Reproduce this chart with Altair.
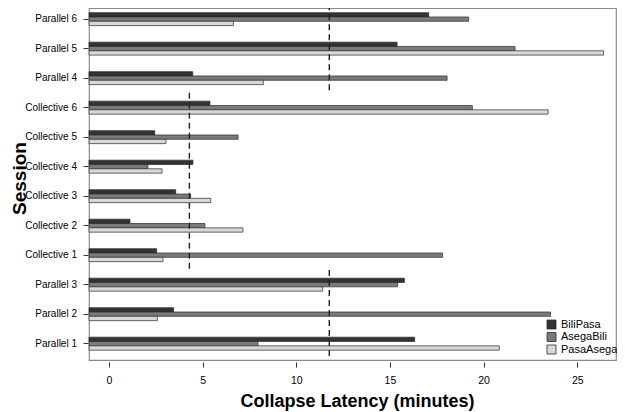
import altair as alt
import pandas as pd

sessions = ["Parallel 6", "Parallel 5", "Parallel 4", "Collective 6", "Collective 5",
            "Collective 4", "Collective 3", "Collective 2", "Collective 1",
            "Parallel 3", "Parallel 2", "Parallel 1"]
series = ["BiliPasa", "AsegaBili", "PasaAsega"]
bili_pasa = [17.07, 15.38, 4.47, 5.39, 2.44, 4.48, 3.56, 1.12, 2.54, 15.77, 3.45, 16.32]
asega_bili = [19.2, 21.68, 18.05, 19.4, 6.89, 2.08, 4.36, 5.12, 17.81, 15.41, 23.58, 7.95]
pasa_asega = [6.64, 26.41, 8.24, 23.45, 3.04, 2.83, 5.43, 7.15, 2.88, 11.41, 2.58, 20.84]
colors = ["#333333", "#7a7a7a", "#d8d8d8"]

ref_start = ["Parallel 6", "Collective 6", "Parallel 3"]
ref_end = ["Parallel 4", "Collective 1", "Parallel 1"]
ref_value = [11.76, 4.29, 11.76]

x_ticks = [0, 5, 10, 15, 20, 25]
x_min, x_max = -1.07, 27.07

rows = []
for name, vals in zip(series, [bili_pasa, asega_bili, pasa_asega]):
    for s, v in zip(sessions, vals):
        rows.append({"Session": s, "Pair": name, "Latency": v})
df = pd.DataFrame(rows)
ref_df = pd.DataFrame({"start": ref_start, "end": ref_end, "v": ref_value})

FONT = "Liberation Sans"
xscale = alt.Scale(domain=[x_min, x_max], nice=False, zero=False)
yscale = alt.Scale(domain=sessions, paddingInner=0.56, paddingOuter=0.245, align=0.32)

bars = alt.Chart(df).mark_bar(stroke="#2a2a2a", strokeWidth=0.7).encode(
    x=alt.X("Latency:Q", scale=xscale, stack=None,
            axis=alt.Axis(values=x_ticks, domain=False, grid=False, tickSize=5, offset=2,
                          labelPadding=8, labelFontSize=10.5,
                          title="Collapse Latency (minutes)", titleFontSize=18,
                          titleFontWeight="bold", titleX=268, titleY=44.5,
                          titleBaseline="alphabetic", titleAlign="center")),
    x2=alt.X2Datum(x_min),
    y=alt.Y("Session:N", scale=yscale, sort=sessions,
            axis=alt.Axis(domain=False, grid=False, tickSize=5, offset=1, labelPadding=6.5,
                          labelFontSize=10, title="Session", titleFontSize=19,
                          titleFontWeight="bold", titleX=-62.7, titleY=170,
                          titleAngle=270, titleBaseline="alphabetic", titleAlign="center")),
    yOffset=alt.YOffset("Pair:N", sort=series, scale=alt.Scale(domain=series, paddingInner=0, paddingOuter=0)),
    color=alt.Color("Pair:N", scale=alt.Scale(domain=series, range=colors),
                    legend=alt.Legend(orient="none", legendX=457, legendY=311, title=None,
                                      symbolType="square", symbolSize=81, labelFontSize=11,
                                      clipHeight=11, rowPadding=0.5, labelOffset=4, padding=0,
                                      symbolStrokeColor="#2a2a2a", symbolStrokeWidth=0.8)),
)

rules = alt.Chart(ref_df).mark_rule(strokeDash=[6, 4], color="#222222", strokeWidth=1.4,
                                    yOffset=-8.3, y2Offset=8.3).encode(
    x=alt.X("v:Q", scale=xscale),
    y=alt.Y("start:N", scale=yscale, sort=sessions, bandPosition=0),
    y2=alt.Y2("end:N", bandPosition=1),
)

chart = alt.layer(bars, rules).properties(
    width=527, height=352,
    autosize=alt.AutoSizeParams(type="none"),
    padding={"left": 81, "top": 0, "right": 1, "bottom": 52},
).configure_view(
    stroke="#8a8a8a", strokeWidth=1.2
).configure_axis(
    labelFont=FONT, titleFont=FONT, labelColor="#000000", titleColor="#000000",
    tickColor="#333333"
).configure_legend(
    labelFont=FONT, labelColor="#000000"
)

chart.save("out.html", embed_options={"renderer": "svg", "actions": False})
